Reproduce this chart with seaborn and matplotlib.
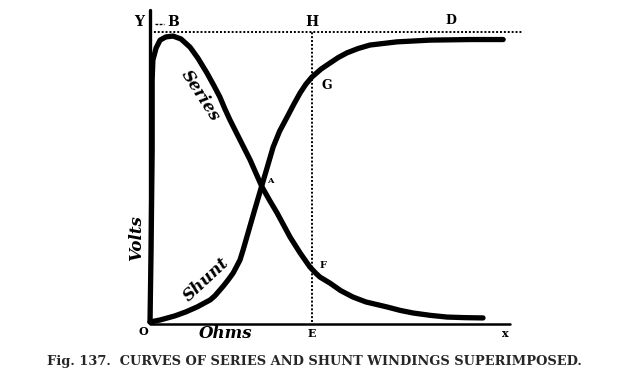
import numpy as np
import pandas as pd
import matplotlib
matplotlib.use("Agg")
import matplotlib.pyplot as plt
import seaborn as sns

# curve points (ohms, volts), 0..100 scale
series_ohms = [0, 0.3, 0.6, 0.6, 0.8, 1.7, 2.8, 4.4, 6.4, 8.6, 11.1, 13.3, 15.8, 17.8, 19.4,
               20.8, 22.2, 25.0, 27.8, 31.1, 33.2, 35.3, 38.9, 41.7, 44.4, 46.0, 47.2, 50.0,
               53.0, 56.4, 60.0, 65.8, 69.5, 73.1, 77.8, 82.5, 87.5, 92.5]
series_volts = [0, 24.8, 59.3, 83.4, 90.3, 94.5, 97.2, 98.3, 98.6, 97.6, 94.8, 91.0, 85.9, 81.4, 77.6,
                73.5, 69.7, 62.8, 55.9, 46.6, 42.0, 37.6, 29.3, 23.8, 19.0, 16.9, 15.5, 13.4,
                10.8, 8.6, 6.9, 5.2, 4.0, 3.1, 2.3, 1.7, 1.5, 1.4]

shunt_ohms = [0, 2.8, 6.9, 10.0, 13.1, 16.7, 18.0, 19.4, 20.5, 21.7, 23.1, 24.0, 25.0, 25.9, 26.9,
              28.9, 31.1, 32.6, 34.2, 36.0, 38.1, 40.0, 41.7, 43.3, 45.0, 47.5, 50.0, 52.3,
              54.7, 57.8, 61.1, 68.6, 77.8, 88.9, 98.1]
shunt_volts = [0, 0.7, 2.1, 3.5, 5.2, 7.6, 9.0, 11.0, 12.6, 14.5, 16.9, 19.0, 21.4, 25.0, 29.3,
               37.9, 47.2, 53.5, 60.3, 65.8, 70.7, 75.2, 79.0, 82.0, 84.5, 87.2, 89.3, 91.2,
               92.8, 94.3, 95.5, 96.6, 97.2, 97.4, 97.4]

point_E = 45.0      # ohms at the vertical H-E line
top_volts = 100.0   # the B-D line

df = pd.concat([
    pd.DataFrame({"ohms": series_ohms, "volts": series_volts, "curve": "Series"}),
    pd.DataFrame({"ohms": shunt_ohms, "volts": shunt_volts, "curve": "Shunt"}),
])

sns.set_style("white")
fig = plt.figure(figsize=(6.29, 3.87), dpi=100)
ax = fig.add_axes([0, 0, 1, 1])
# pixel mapping: x px = 150 + 3.6*ohms, y px = 322 - 2.9*volts
ax.set_xlim(-150 / 3.6, (629 - 150) / 3.6)
ax.set_ylim((322 - 387) / 2.9, 322 / 2.9)
ax.axis("off")

sns.lineplot(data=df, x="ohms", y="volts", units="curve", estimator=None, sort=False,
             color="black", lw=3.8, ax=ax, legend=False)
for ln in ax.lines:
    ln.set_solid_capstyle("round")
    ln.set_solid_joinstyle("round")

# axes
ax.plot([0, 0], [0, 107.5], color="black", lw=2.4)
ax.plot([0, 100], [-0.6, -0.6], color="black", lw=1.8)
# dotted construction lines
ax.plot([0, 103.6], [top_volts, top_volts], color="black", lw=1.4, ls=(0, (1, 1)))
ax.plot([point_E, point_E], [0, top_volts], color="black", lw=1.4, ls=(0, (1, 1)))
ax.plot([1.4, 3.8], [102.8, 102.8], color="black", lw=1.0, ls=(0, (2, 1)))

fam = "DejaVu Serif"
lab = dict(family=fam, fontweight="bold", ha="center", va="center", color="black")
ax.text(-3.1, 103.4, "Y", fontsize=10, **lab)
ax.text(6.4, 103.4, "B", fontsize=10, **lab)
ax.text(point_E, 103.4, "H", fontsize=10, **lab)
ax.text(83.6, 103.8, "D", fontsize=9, **lab)
ax.text(49.2, 81.7, "G", fontsize=9, **lab)
ax.text(33.5, 48.5, "A", fontsize=6, **lab)
ax.text(48.0, 19.6, "F", fontsize=7, **lab)
ax.text(-1.9, -3.2, "O", fontsize=8, **lab)
ax.text(point_E, -3.8, "E", fontsize=8, **lab)
ax.text(98.6, -3.8, "x", fontsize=8, **lab)

it = dict(family=fam, fontweight="bold", fontstyle="italic", ha="center", va="center", color="black")
ax.text(-3.8, 29.0, "Volts", fontsize=12, rotation=90, **it)
ax.text(21.1, -3.8, "Ohms", fontsize=12, **it)
ax.text(13.9, 78.0, "Series", fontsize=12, rotation=-57, **it)
ax.text(15.6, 14.5, "Shunt", fontsize=12, rotation=43, **it)

fig.text(0.5, 1 - 362 / 387, "Fig. 137.  CURVES OF SERIES AND SHUNT WINDINGS SUPERIMPOSED.",
         family=fam, fontweight="bold", fontsize=9.4, ha="center", va="center")

fig.savefig("out.png", dpi=100, facecolor="white")
